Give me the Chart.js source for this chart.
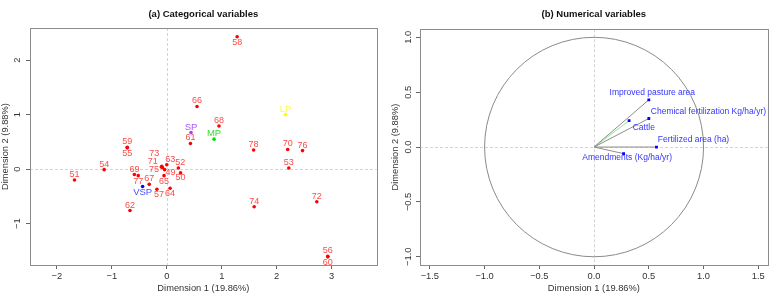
<!DOCTYPE html>
<html>
<head>
<meta charset="utf-8">
<script src="https://cdn.jsdelivr.net/npm/chart.js@4.4.2/dist/chart.umd.min.js"></script>
<style>
  html, body { margin: 0; padding: 0; background: #fff; }
  #wrap { display: flex; width: 783px; height: 302px; }
  canvas { display: block; }
</style>
</head>
<body>
<div id="wrap">
  <canvas id="catChart" width="390" height="302"></canvas>
  <canvas id="numChart" width="393" height="302"></canvas>
</div>
<script>
const FONT = '"Liberation Sans", Arial, sans-serif';

// (a) individuals on the MCA map
const indLabels = ['49', '50', '51', '52', '53', '54', '55', '56', '57', '58',
                   '59', '60', '61', '62', '63', '64', '65', '66', '67', '68',
                   '69', '70', '71', '72', '73', '74', '75', '76', '77', '78'];
const indX = [-0.04, 0.25, -1.68, 0.21, 2.22, -1.14, -0.72, 2.93, -0.18, 1.28,
              -0.72, 2.93, 0.43, -0.67, 0.00, 0.06, -0.05, 0.55, -0.32, 0.95,
              -0.59, 2.20, -0.10, 2.73, -0.09, 1.59, -0.08, 2.47, -0.52, 1.58];
const indY = [-0.01, -0.07, -0.20, 0.02, 0.02, -0.01, 0.39, -1.60, -0.37, 2.43,
              0.40, -1.61, 0.47, -0.76, 0.08, -0.35, -0.12, 1.15, -0.28, 0.79,
              -0.10, 0.36, 0.04, -0.60, 0.05, -0.69, 0.03, 0.34, -0.12, 0.35];

// (a) category levels
const catLabels = ['LP', 'SP', 'MP', 'VSP'];
const catX = [2.16, 0.44, 0.86, -0.44];
const catY = [1.00, 0.67, 0.55, -0.32];

// (b) numerical variables
const varLabels = ['Improved pasture area', 'Chemical fertilization Kg/ha/yr)', 'Cattle',
                   'Fertilized area (ha)', 'Amendments (Kg/ha/yr)'];
const varX = [0.50, 0.50, 0.32, 0.57, 0.27];
const varY = [0.43, 0.26, 0.24, 0.00, -0.06];

const catTicksX = [-2, -1, 0, 1, 2, 3];
const catTicksY = [-1, 0, 1, 2];
const numTicksX = [-1.5, -1, -0.5, 0, 0.5, 1, 1.5];
const numTicksY = [-1, -0.5, 0, 0.5, 1];

// label placement (pixels from the point), default is just above
const indNudge = {
  '55': [0, 5.5], '60': [0, 6], '58': [0, 6],
  '73': [-7.5, -13], '71': [-8.5, -5], '75': [-8.5, 2],
  '63': [3.5, -5.5], '52': [2, -5.5], '49': [6, 2.5], '50': [0, 5],
  '65': [0, 5.5], '77': [0, 6], 'VSP': [0, 5.5], '57': [2, 5.3], '64': [0, 5]
};
const varPlace = {
  'Improved pasture area': ['center', 3.5, -7.3],
  'Chemical fertilization Kg/ha/yr)': ['left', 2, -6.6],
  'Cattle': ['left', 3.6, 6.7],
  'Fertilized area (ha)': ['left', 1.4, -7.4],
  'Amendments (Kg/ha/yr)': ['center', 3.5, 4.3]
};

const minus = v => String(v).replace('-', '\u2212');
const fmtInt = v => minus(v.toFixed(0));
const fmtOne = v => minus(v.toFixed(1));

const framePlugin = {
  id: 'frame',
  beforeDatasetsDraw(chart, args, opts) {
    const { ctx, chartArea: a, scales: { x, y } } = chart;
    ctx.save();
    ctx.lineWidth = 1;
    ctx.strokeStyle = '#d4d4d4';
    ctx.setLineDash([3, 2]);
    const x0 = Math.round(x.getPixelForValue(0)) + 0.5;
    const y0 = Math.round(y.getPixelForValue(0)) + 0.5;
    ctx.beginPath();
    ctx.moveTo(a.left, y0); ctx.lineTo(a.right, y0);
    ctx.moveTo(x0, a.top); ctx.lineTo(x0, a.bottom);
    ctx.stroke();
    ctx.setLineDash([]);
    if (opts.circle) {
      const rx = x.getPixelForValue(1) - x.getPixelForValue(0);
      const ry = y.getPixelForValue(0) - y.getPixelForValue(1);
      ctx.strokeStyle = '#8a8a8a';
      ctx.beginPath();
      ctx.ellipse(x.getPixelForValue(0), y.getPixelForValue(0), rx, ry, 0, 0, Math.PI * 2);
      ctx.stroke();
    }
    ctx.strokeStyle = '#8c8c8c';
    ctx.strokeRect(Math.round(a.left) + 0.5, Math.round(a.top) + 0.5,
                   Math.round(a.right - a.left), Math.round(a.bottom - a.top));
    // rotated y tick labels, as in base R
    ctx.fillStyle = '#333';
    ctx.font = '9.3px ' + FONT;
    ctx.textAlign = 'center';
    ctx.textBaseline = 'middle';
    y.ticks.forEach(t => {
      ctx.save();
      ctx.translate(opts.labelX, y.getPixelForValue(t.value));
      ctx.rotate(-Math.PI / 2);
      ctx.fillText(opts.fmt(t.value), 0, 0);
      ctx.restore();
    });
    // panel title centred on the plot box
    ctx.fillStyle = '#111';
    ctx.font = 'bold 9.5px ' + FONT;
    ctx.fillText(opts.title, (a.left + a.right) / 2, 14.7);
    ctx.restore();
  },
  afterDatasetsDraw(chart) {
    const ctx = chart.ctx;
    ctx.save();
    ctx.textBaseline = 'middle';
    chart.data.datasets.forEach((ds, i) => {
      if (!ds.pointLabels) return;
      const meta = chart.getDatasetMeta(i);
      ctx.font = ds.labelFont + 'px ' + FONT;
      meta.data.forEach((el, j) => {
        const lab = ds.pointLabels[j];
        if (!lab) return;
        const [align, dx, dy] = ds.place(lab);
        ctx.textAlign = align;
        ctx.fillStyle = Array.isArray(ds.labelColor) ? ds.labelColor[j] : ds.labelColor;
        ctx.fillText(lab, el.x + dx, el.y + dy);
      });
    });
    ctx.restore();
  }
};

function axes(xMin, xMax, xTicks, yMin, yMax, yTicks, fmt) {
  const tickFont = { size: 9.3, family: FONT };
  return {
    x: {
      type: 'linear', min: xMin, max: xMax,
      afterBuildTicks: s => { s.ticks = xTicks.map(v => ({ value: v })); },
      afterFit: s => { s.height = 37; },
      ticks: { callback: v => fmt(v), font: tickFont, color: '#333', padding: 1.5, maxRotation: 0, autoSkip: false },
      grid: { drawOnChartArea: false, color: '#666', tickColor: '#666', tickLength: 4 },
      border: { display: false },
      title: { display: true, text: 'Dimension 1 (19.86%)', font: tickFont, color: '#333', padding: { top: 0, bottom: 8 } }
    },
    y: {
      type: 'linear', min: yMin, max: yMax,
      afterBuildTicks: s => { s.ticks = yTicks.map(v => ({ value: v })); },
      afterFit: s => { s.width = 30; },
      ticks: { display: false },
      grid: { drawOnChartArea: false, color: '#666', tickColor: '#666', tickLength: 4 },
      border: { display: false },
      title: { display: true, text: 'Dimension 2 (9.88%)', font: tickFont, color: '#333', padding: { top: 0, bottom: 0 } }
    }
  };
}

new Chart(document.getElementById('catChart'), {
  type: 'scatter',
  data: {
    datasets: [{
      data: indLabels.map((l, i) => ({ x: indX[i], y: indY[i] })),
      pointRadius: 1.8, pointBorderWidth: 0, pointBackgroundColor: '#ff0000',
      pointLabels: indLabels, labelFont: 9, labelColor: '#ff4a4a',
      place: l => ['center', ...(indNudge[l] || [0, -5.5])]
    }, {
      data: catLabels.map((l, i) => ({ x: catX[i], y: catY[i] })),
      pointRadius: 1.8, pointBorderWidth: 0,
      pointBackgroundColor: ['#ffff00', '#a040ff', '#00e000', '#0000ff'],
      pointLabels: catLabels, labelFont: 9.5,
      labelColor: ['#ffff30', '#a855ff', '#33dd33', '#4d4dff'],
      place: l => ['center', ...(indNudge[l] || [0, -5.5])]
    }]
  },
  options: {
    responsive: false, animation: false,
    layout: { padding: { top: 28, right: 13.3, left: 0, bottom: 0 } },
    plugins: {
      legend: { display: false }, tooltip: { enabled: false },
      frame: { title: '(a) Categorical variables', labelX: 17.3, fmt: fmtInt }
    },
    scales: axes(-2.49, 3.82, catTicksX, -1.76, 2.59, catTicksY, fmtInt)
  },
  plugins: [framePlugin]
});

new Chart(document.getElementById('numChart'), {
  type: 'scatter',
  data: {
    datasets: varLabels.map((l, i) => ({
      data: [{ x: 0, y: 0 }, { x: varX[i], y: varY[i] }],
      showLine: true, borderWidth: 1,
      borderColor: l === 'Cattle' ? '#8fe88f' : '#8c8c8c',
      pointRadius: [0, 2], pointStyle: 'rect', pointBorderWidth: 0, pointBackgroundColor: '#0000ff',
      pointLabels: [null, l], labelFont: 8.5, labelColor: '#3333ff',
      place: lab => varPlace[lab]
    }))
  },
  options: {
    responsive: false, animation: false,
    layout: { padding: { top: 29.3, right: 15.3, left: 0, bottom: 0 } },
    plugins: {
      legend: { display: false }, tooltip: { enabled: false },
      frame: { title: '(b) Numerical variables', labelX: 18, fmt: fmtOne, circle: true }
    },
    scales: axes(-1.59, 1.586, numTicksX, -1.075, 1.073, numTicksY, fmtOne)
  },
  plugins: [framePlugin]
});
</script>
</body>
</html>
